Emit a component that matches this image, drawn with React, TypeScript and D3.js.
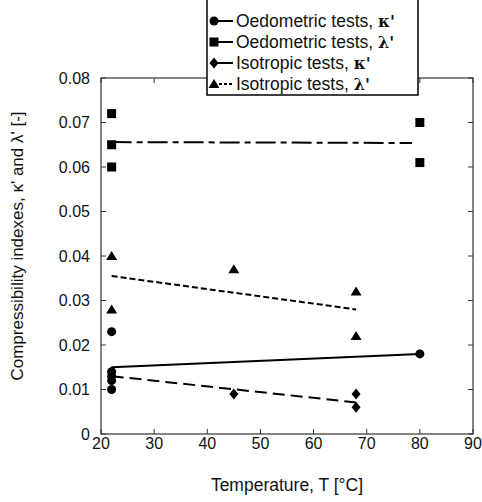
import * as d3 from "d3";

// temperature, index value
const oedoKappa: [number, number][] = [
  [22, 0.023], [22, 0.014], [22, 0.013], [22, 0.012], [22, 0.010], [80, 0.018],
];
const oedoLambda: [number, number][] = [
  [22, 0.072], [22, 0.065], [22, 0.060], [80, 0.070], [80, 0.061],
];
const isoKappa: [number, number][] = [
  [22, 0.014], [22, 0.013], [45, 0.009], [68, 0.009], [68, 0.006],
];
const isoLambda: [number, number][] = [
  [22, 0.040], [22, 0.028], [45, 0.037], [68, 0.032], [68, 0.022],
];

// fitted trend lines
const fitOedoKappa: [number, number][] = [[22, 0.015], [80, 0.018]];
const fitOedoLambda: [number, number][] = [[22, 0.0656], [78.5, 0.0654]];
const fitIsoKappa: [number, number][] = [[22, 0.013], [68, 0.0071]];
const fitIsoLambda: [number, number][] = [[22, 0.0355], [68, 0.028]];

const xTicks = [20, 30, 40, 50, 60, 70, 80, 90];
const yTicks = [0, 0.01, 0.02, 0.03, 0.04, 0.05, 0.06, 0.07, 0.08];

const legendItems = [
  { name: "Oedometric tests, ", sym: "κ'", shape: "circle", dash: "" },
  { name: "Oedometric tests, ", sym: "λ'", shape: "square", dash: "" },
  { name: "Isotropic tests, ", sym: "κ'", shape: "diamond", dash: "" },
  { name: "Isotropic tests, ", sym: "λ'", shape: "triangle", dash: "3,2" },
];

const W = 482;
const H = 502;
const left = 101;
const right = 473;
const top = 78;
const bottom = 434;
const font = "'Liberation Sans', Arial, sans-serif";

function Marker(props: { shape: string; x: number; y: number }) {
  const { shape, x, y } = props;
  if (shape === "circle") return <circle cx={x} cy={y} r={4.5} fill="#000" />;
  if (shape === "square") return <rect x={x - 4.5} y={y - 4.5} width={9} height={9} fill="#000" />;
  if (shape === "diamond")
    return <path d={`M${x},${y - 5.5}L${x + 4.5},${y}L${x},${y + 5.5}L${x - 4.5},${y}Z`} fill="#000" />;
  return <path d={`M${x},${y - 5}L${x + 5.5},${y + 4}L${x - 5.5},${y + 4}Z`} fill="#000" />;
}

export default function App() {
  const x = d3.scaleLinear().domain([20, 90]).range([left, right]);
  const y = d3.scaleLinear().domain([0, 0.08]).range([bottom, top]);
  const line = d3
    .line<[number, number]>()
    .x((d) => x(d[0]))
    .y((d) => y(d[1]));

  const series = [
    { data: oedoKappa, shape: "circle" },
    { data: oedoLambda, shape: "square" },
    { data: isoLambda, shape: "triangle" },
    { data: isoKappa, shape: "diamond" },
  ];

  const fits = [
    { data: fitOedoKappa, dash: "" },
    { data: fitOedoLambda, dash: "20,5,6,5" },
    { data: fitIsoKappa, dash: "12,6" },
    { data: fitIsoLambda, dash: "6,3" },
  ];

  const axisColor = "#333";

  return (
    <div style={{ position: "absolute", left: 0, top: 0 }}>
      <svg width={W} height={H} style={{ display: "block", background: "#fff" }} fontFamily={font}>
        {/* frame */}
        <rect x={left} y={top} width={right - left} height={bottom - top} fill="none" stroke={axisColor} strokeWidth={1.2} />
        {xTicks.map((t) => (
          <g key={"x" + t}>
            <line x1={x(t)} x2={x(t)} y1={bottom} y2={bottom - 5} stroke={axisColor} />
            <line x1={x(t)} x2={x(t)} y1={top} y2={top + 5} stroke={axisColor} />
            <text x={x(t)} y={449} textAnchor="middle" fontSize={16} fill="#111">
              {t}
            </text>
          </g>
        ))}
        {yTicks.map((t) => (
          <g key={"y" + t}>
            <line x1={left} x2={left + 5} y1={y(t)} y2={y(t)} stroke={axisColor} />
            <line x1={right} x2={right - 5} y1={y(t)} y2={y(t)} stroke={axisColor} />
            <text x={90} y={y(t)} dy="0.35em" textAnchor="end" fontSize={16} fill="#111">
              {t === 0 ? "0" : t.toFixed(2)}
            </text>
          </g>
        ))}

        {/* fits */}
        {fits.map((f, i) => (
          <path key={"f" + i} d={line(f.data) ?? ""} fill="none" stroke="#000" strokeWidth={2} strokeDasharray={f.dash} />
        ))}

        {/* points */}
        {series.map((s) =>
          s.data.map((d, i) => <Marker key={s.shape + i} shape={s.shape} x={x(d[0])} y={y(d[1])} />)
        )}

        {/* axis titles */}
        <text x={(left + right) / 2} y={491} textAnchor="middle" fontSize={17.5} fill="#111">
          Temperature, T [°C]
        </text>
        <text
          transform={`translate(23,${(top + bottom) / 2 - 10}) rotate(-90)`}
          textAnchor="middle"
          fontSize={17}
          fill="#111"
        >
          Compressibility indexes, κ' and λ' [-]
        </text>

        {/* legend */}
        <rect x={207} y={-2} width={211} height={97} fill="#fff" stroke="#000" strokeWidth={1.5} />
        {legendItems.map((it, i) => {
          const cy = 21 + i * 21;
          return (
            <g key={"l" + i}>
              <line x1={214} x2={233} y1={cy} y2={cy} stroke="#000" strokeWidth={2} strokeDasharray={it.dash} />
              <Marker shape={it.shape} x={214} y={cy} />
              <text x={236} y={cy} dy="0.35em" fontSize={17.5} fill="#111">
                {it.name}
                <tspan fontWeight="bold" fontFamily="'DejaVu Serif', serif" fontSize={16}>
                  {it.sym}
                </tspan>
              </text>
            </g>
          );
        })}
      </svg>
    </div>
  );
}
